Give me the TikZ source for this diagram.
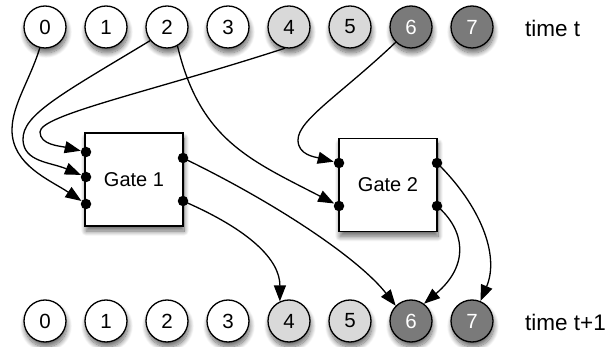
\documentclass[tikz,border=0pt]{standalone}
\usepackage{fontspec}
\setmainfont{Liberation Sans}
\usetikzlibrary{arrows.meta,shadows.blur}
\definecolor{lightbit}{HTML}{D9D9D9}
\definecolor{darkbit}{HTML}{7A7A7A}
\begin{document}
\begin{tikzpicture}[x=1pt,y=-1pt,
  shad/.style={blur shadow={shadow xshift=1pt,shadow yshift=-5pt,shadow blur radius=5pt,shadow blur steps=12,shadow opacity=60}},
  bit/.style={circle,draw,line width=1.3pt,minimum size=42pt,inner sep=0pt,fill=white,
    font=\fontsize{20.5}{20.5}\selectfont,shad},
  lbit/.style={bit,fill=lightbit},
  dbit/.style={bit,fill=darkbit,text=white},
  gate/.style={rectangle,draw,line width=1.3pt,fill=white,minimum width=98pt,minimum height=93pt,
    inner sep=0pt,font=\fontsize{20}{20}\selectfont,shad},
  lbl/.style={anchor=west,inner sep=0pt,font=\fontsize{22.5}{22.5}\selectfont},
  wire/.style={line width=1.3pt},
  arrb/.style={wire,-{Triangle[length=16pt,width=12pt]}},
  port/.style={circle,fill=black,inner sep=0pt,minimum size=10.5pt}
]
\useasboundingbox (0,0) rectangle (608,347);
% top row
\node[bit]  (t0) at (45,27) {0};
\node[bit]  (t1) at (106,27) {1};
\node[bit]  (t2) at (167,27) {2};
\node[bit]  (t3) at (228,27) {3};
\node[lbit] (t4) at (289,27) {4};
\node[lbit] (t5) at (350,27) {5};
\node[dbit] (t6) at (411,27) {6};
\node[dbit] (t7) at (472,27) {7};
\node[lbl] (lt) at (525,28) {time t};
% bottom row
\node[bit]  (b0) at (45,321) {0};
\node[bit]  (b1) at (106,321) {1};
\node[bit]  (b2) at (167,321) {2};
\node[bit]  (b3) at (228,321) {3};
\node[lbit] (b4) at (289,321) {4};
\node[lbit] (b5) at (350,321) {5};
\node[dbit] (b6) at (411,321) {6};
\node[dbit] (b7) at (472,321) {7};
\node[lbl] (lb) at (525,322) {time t+1};
% gates
\node[gate] (g1) at (134,179.5) {Gate 1};
\node[gate] (g2) at (388,185) {Gate 2};
% ports
\node[port] (g1i1) at (86,152) {};
\node[port] (g1i2) at (86,177) {};
\node[port] (g1i3) at (86,204) {};
\node[port] (g1o1) at (183,158) {};
\node[port] (g1o2) at (183,201) {};
\node[port] (g2i1) at (339,163) {};
\node[port] (g2i2) at (339,206) {};
\node[port] (g2o1) at (437,163) {};
\node[port] (g2o2) at (437,206) {};
% inputs
\draw[arrb] (t0.256) .. controls (30,80) and (12,105) .. (12,130)
  .. controls (12,165) and (50,180) .. (g1i3);
\draw[arrb] (t2.219) .. controls (60,95) and (22,115) .. (23,140)
  .. controls (24,162) and (50,162) .. (g1i2);
\draw[arrb] (t4.259) .. controls (150,92) and (40,115) .. (40,132)
  .. controls (40,145) and (60,146) .. (g1i1);
\draw[arrb] (t2.299) .. controls (200,140) and (250,160) .. (g2i2);
\draw[arrb] (t6.225) .. controls (340,95) and (298,120) .. (298,140)
  .. controls (298,155) and (315,157) .. (g2i1);
% outputs
\draw[arrb] (g1o1.center) .. controls (280,205) and (360,260) .. (b6.135);
\draw[arrb] (g1o2.center) .. controls (250,230) and (280,260) .. (b4.115);
\draw[arrb] (g2o1.center) .. controls (480,205) and (500,255) .. (b7.67);
\draw[arrb] (g2o2.center) .. controls (465,230) and (470,265) .. (b6.53);
\end{tikzpicture}
\end{document}
